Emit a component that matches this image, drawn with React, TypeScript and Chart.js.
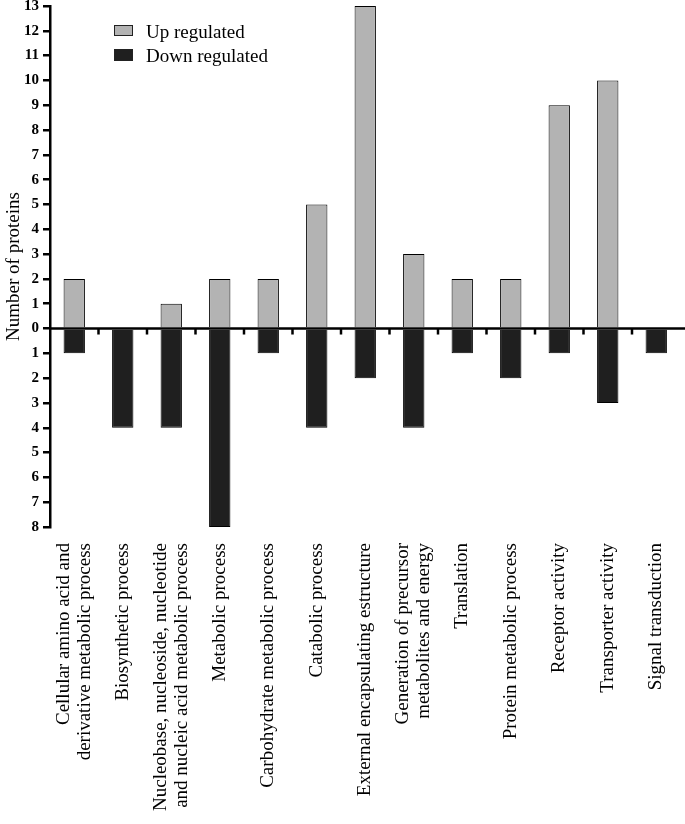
import React, { useEffect, useRef } from "react";
import { Chart, registerables } from "chart.js";

Chart.register(...registerables);

const categories: string[][] = [
  ["Cellular amino acid and", "derivative metabolic process"],
  ["Biosynthetic process"],
  ["Nucleobase, nucleoside, nucleotide", "and nucleic acid metabolic process"],
  ["Metabolic process"],
  ["Carbohydrate metabolic process"],
  ["Catabolic process"],
  ["External encapsulating estructure"],
  ["Generation of precursor", "metabolites and energy"],
  ["Translation"],
  ["Protein metabolic process"],
  ["Receptor activity"],
  ["Transporter activity"],
  ["Signal transduction"],
];

const upRegulated = [2, 0, 1, 2, 2, 5, 13, 3, 2, 2, 9, 10, 0];
const downRegulated = [-1, -4, -4, -8, -1, -4, -2, -4, -1, -2, -1, -3, -1];

const yMin = -8;
const yMax = 13;
const yStep = 1;

const seriesNames = ["Up regulated", "Down regulated"];
const seriesColors = ["#b3b3b3", "#1f1f1f"];

const FONT = "'Liberation Serif', 'Times New Roman', serif";

const overlayPlugin = {
  id: "overlay",
  afterDatasetsDraw(chart: any) {
    const { ctx, chartArea, scales } = chart;
    const x = scales.x;
    const y = scales.y;
    const y0 = y.getPixelForValue(0);
    ctx.save();
    ctx.strokeStyle = "#000";
    ctx.lineWidth = 2.5;
    ctx.beginPath();
    ctx.moveTo(chartArea.left, y0);
    ctx.lineTo(chart.width, y0);
    ctx.stroke();
    const labels = chart.data.labels as any[];
    const n = labels.length;
    for (let i = 0; i < n - 1; i++) {
      const bx = (x.getPixelForValue(i) + x.getPixelForValue(i + 1)) / 2;
      ctx.beginPath();
      ctx.moveTo(bx, y0);
      ctx.lineTo(bx, y0 + 6);
      ctx.stroke();
    }
    ctx.fillStyle = "#000";
    ctx.font = `19px ${FONT}`;
    ctx.textAlign = "right";
    ctx.textBaseline = "middle";
    labels.forEach((lab, i) => {
      const lines: string[] = Array.isArray(lab) ? lab : [lab];
      const cx = x.getPixelForValue(i);
      lines.forEach((line, j) => {
        const lx = cx + (j - (lines.length - 1) / 2) * 21;
        ctx.save();
        ctx.translate(lx, chartArea.bottom + 16);
        ctx.rotate(-Math.PI / 2);
        ctx.fillText(line, 0, 0);
        ctx.restore();
      });
    });
    ctx.restore();
  },
};

export default function App() {
  const canvasRef = useRef<HTMLCanvasElement | null>(null);

  useEffect(() => {
    if (!canvasRef.current) return;
    const chart = new Chart(canvasRef.current, {
      type: "bar",
      data: {
        labels: categories as any,
        datasets: [
          {
            label: seriesNames[0],
            data: upRegulated,
            backgroundColor: seriesColors[0],
            borderColor: "#000",
            borderWidth: 1,
            barPercentage: 0.44,
            categoryPercentage: 1,
          },
          {
            label: seriesNames[1],
            data: downRegulated,
            backgroundColor: seriesColors[1],
            borderColor: "#000",
            borderWidth: 1,
            barPercentage: 0.44,
            categoryPercentage: 1,
          },
        ],
      },
      options: {
        animation: false,
        responsive: false,
        layout: { padding: { top: 6, right: 4.5, left: 0, bottom: 0 } },
        plugins: {
          legend: { display: false },
          tooltip: { enabled: false },
        },
        scales: {
          x: {
            stacked: true,
            grid: { display: false },
            border: { display: false },
            ticks: { display: false },
            afterFit(s: any) {
              s.height = 297;
            },
          },
          y: {
            stacked: true,
            min: yMin,
            max: yMax,
            ticks: {
              stepSize: yStep,
              autoSkip: false,
              color: "#000",
              padding: 4,
              font: { family: FONT, size: 15, weight: "bold" },
              callback: (v: any) => String(Math.abs(Number(v))),
            },
            grid: {
              drawOnChartArea: false,
              drawTicks: true,
              tickLength: 7,
              lineWidth: 2.5,
              color: "#000",
            },
            border: { display: true, color: "#000", width: 2.5 },
            title: {
              display: true,
              text: "Number of proteins",
              color: "#000",
              font: { family: FONT, size: 19 },
              padding: { top: 3, bottom: 0 },
            },
            afterFit(s: any) {
              s.width = 50;
              s.paddingTop = 0;
              s.paddingBottom = 0;
            },
          },
        },
      } as any,
      plugins: [overlayPlugin],
    });
    return () => chart.destroy();
  }, []);

  const legendText: React.CSSProperties = {
    position: "absolute",
    left: 146,
    fontFamily: FONT,
    fontSize: 19,
    lineHeight: "22px",
    color: "#000",
    whiteSpace: "nowrap",
  };
  const box: React.CSSProperties = {
    position: "absolute",
    left: 114,
    width: 19,
    boxSizing: "border-box",
    border: "1px solid #222",
  };

  return (
    <div style={{ position: "absolute", left: 0, top: 0, width: 685, height: 824, background: "#fff" }}>
      <canvas ref={canvasRef} width={685} height={824} style={{ display: "block" }} />
      <div style={{ ...box, top: 25, height: 11, background: seriesColors[0] }} />
      <div style={{ ...legendText, top: 21 }}>{seriesNames[0]}</div>
      <div style={{ ...box, top: 49, height: 12, background: seriesColors[1] }} />
      <div style={{ ...legendText, top: 45 }}>{seriesNames[1]}</div>
    </div>
  );
}
